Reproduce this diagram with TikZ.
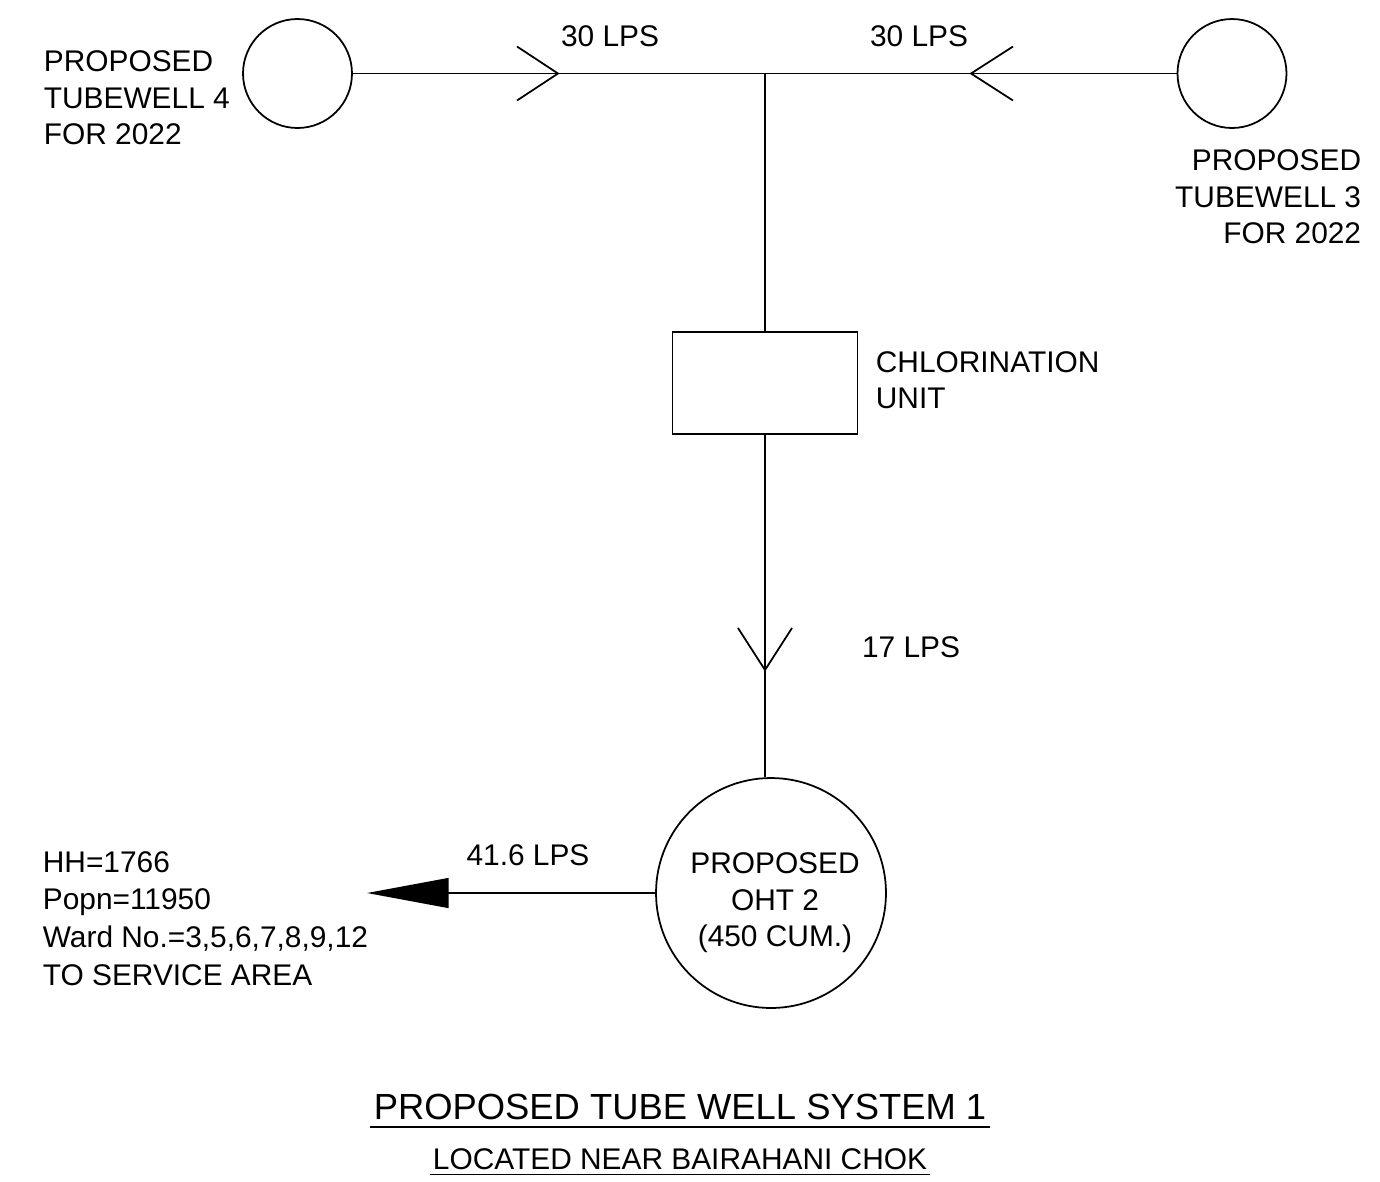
\documentclass[tikz,border=0pt]{standalone}
\usepackage{fontspec}
\setmainfont{Liberation Sans}
\usetikzlibrary{arrows.meta}
\begin{document}
\begin{tikzpicture}[x=0.02cm, y=-0.02cm, line width=1pt,
    txt/.style={font=\fontsize{17}{20.7}\selectfont, inner sep=0pt},
    well/.style={circle, draw, inner sep=0pt, minimum size=2.18cm}]
            \useasboundingbox (0,0) rectangle (1380,1181);
            \node[well] (tw4) at (297.5,73.5) {};
            \node[well] (tw3) at (1232,73.5) {};
            \node[draw, inner sep=0pt, minimum width=3.7cm, minimum height=2.04cm] (chl) at (765,383) {};
            \node[circle, draw, inner sep=0pt, minimum size=4.6cm] (oht) at (771,893) {};
            \coordinate (jn) at (765,73.5);
            \coordinate (tip4) at (558,73.5);
            \coordinate (tip3) at (971,73.5);
            \coordinate (tipdn) at (765,670);
            \coordinate (svc) at (367,893);
            \draw (tw4) -- (tw3);
            \draw (jn) -- (chl);
            \draw (chl.south) -- (chl.south |- oht.north);
            \draw ([shift={(-41,-27)}]tip4) -- (tip4) -- ([shift={(-41,27)}]tip4);
            \draw ([shift={(42,-27)}]tip3) -- (tip3) -- ([shift={(42,27)}]tip3);
            \draw ([shift={(-27,-42)}]tipdn) -- (tipdn) -- ([shift={(27,-42)}]tipdn);
            \draw[-{Triangle[length=46.5pt, width=17pt]}] (oht.west) -- (svc);
            \node[txt, anchor=west, align=left] (lbl4) at (43,98) {PROPOSED\\TUBEWELL 4\\FOR 2022};
            \node[txt, anchor=east, align=right] (lbl3) at (1362,197) {PROPOSED\\TUBEWELL 3\\FOR 2022};
            \node[txt] (q4) at (610,36) {30 LPS};
            \node[txt] (q3) at (919,36) {30 LPS};
            \node[txt, anchor=west, align=left] (chllbl) at (875,380) {CHLORINATION\\UNIT};
            \node[txt] (qdn) at (911,647) {17 LPS};
            \node[txt, align=center] (ohtlbl) at (775,903) {PROPOSED\\OHT 2\\(450 CUM.)};
            \node[txt] (qout) at (528,855) {41.6 LPS};
            \node[txt, font=\fontsize{17}{21.4}\selectfont, anchor=west, align=left] (svclbl) at (42,918.5) {HH=1766\\Popn=11950\\Ward No.=3,5,6,7,8,9,12\\TO SERVICE AREA};
            \node[txt, font=\fontsize{20.7}{25}\selectfont] (title) at (680,1107) {PROPOSED TUBE WELL SYSTEM 1};
            \draw ([shift={(-3,6)}]title.south west) -- ([shift={(3,6)}]title.south east);
            \node[txt] (sub) at (680,1159) {LOCATED NEAR BAIRAHANI CHOK};
            \draw ([shift={(-2,4)}]sub.south west) -- ([shift={(2,4)}]sub.south east);
        \end{tikzpicture}
\end{document}
